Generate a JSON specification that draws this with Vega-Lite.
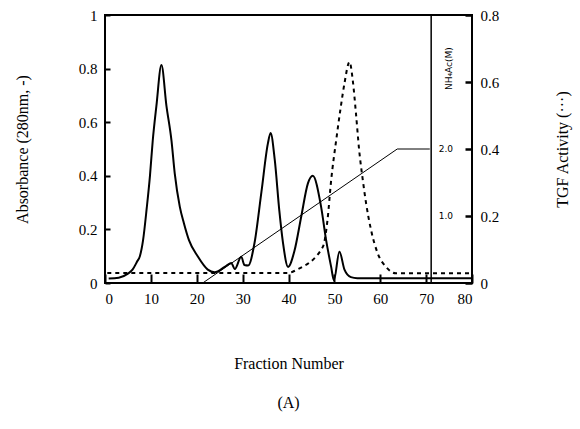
{
  "$schema": "https://vega.github.io/schema/vega-lite/v6.json",
  "width": 367,
  "height": 268,
  "autosize": "none",
  "padding": {"left": 105, "top": 15, "right": 108, "bottom": 146},
  "background": "white",
  "config": {
    "view": {"stroke": "black", "strokeWidth": 2},
    "font": "Liberation Serif",
    "axis": {
      "grid": false,
      "domain": false,
      "ticks": true,
      "zindex": 1,
      "tickColor": "black",
      "tickOpacity": 1,
      "labelColor": "black",
      "titleColor": "black",
      "labelFont": "Liberation Serif",
      "titleFont": "Liberation Serif",
      "labelFontSize": 15,
      "titleFontSize": 16,
      "titleFontWeight": "normal"
    }
  },
  "title": {"text": "(A)", "orient": "bottom", "font": "Liberation Serif", "fontSize": 16, "fontWeight": "normal", "color": "black", "offset": 24},
  "datasets": {
    "absorbance": [
      {"f": 0.8, "v": 0.017}, {"f": 3, "v": 0.02}, {"f": 5, "v": 0.035}, {"f": 6, "v": 0.05},
      {"f": 7, "v": 0.08}, {"f": 7.6, "v": 0.1}, {"f": 8.3, "v": 0.16}, {"f": 9.1, "v": 0.28},
      {"f": 9.8, "v": 0.4}, {"f": 10.4, "v": 0.53}, {"f": 11.2, "v": 0.66}, {"f": 12.3, "v": 0.813},
      {"f": 13.4, "v": 0.66}, {"f": 14.5, "v": 0.53}, {"f": 15.2, "v": 0.409}, {"f": 16.3, "v": 0.285},
      {"f": 17.2, "v": 0.223}, {"f": 18.3, "v": 0.16}, {"f": 20.2, "v": 0.1}, {"f": 22.4, "v": 0.05}, {"f": 23.9, "v": 0.04},
      {"f": 26.1, "v": 0.06}, {"f": 27.5, "v": 0.075}, {"f": 28.3, "v": 0.052}, {"f": 29.7, "v": 0.098},
      {"f": 30.4, "v": 0.067}, {"f": 31.2, "v": 0.065}, {"f": 32.6, "v": 0.15}, {"f": 34.1, "v": 0.34},
      {"f": 35.5, "v": 0.52}, {"f": 36.1, "v": 0.56}, {"f": 37, "v": 0.46}, {"f": 38, "v": 0.27},
      {"f": 38.8, "v": 0.15}, {"f": 39.9, "v": 0.06}, {"f": 41.3, "v": 0.12}, {"f": 42.8, "v": 0.25},
      {"f": 44.2, "v": 0.37}, {"f": 45.3, "v": 0.4}, {"f": 47.1, "v": 0.285}, {"f": 48.2, "v": 0.16},
      {"f": 49.3, "v": 0.06}, {"f": 49.9, "v": 0.01}, {"f": 51.1, "v": 0.117}, {"f": 52.2, "v": 0.05},
      {"f": 53.6, "v": 0.022}, {"f": 55, "v": 0.018}, {"f": 80, "v": 0.018}
    ],
    "tgf": [
      {"f": 0.5, "v": 0.03}, {"f": 40, "v": 0.03}, {"f": 41.7, "v": 0.039}, {"f": 47.5, "v": 0.108},
      {"f": 48.5, "v": 0.188}, {"f": 49.3, "v": 0.307}, {"f": 50.4, "v": 0.427}, {"f": 51.4, "v": 0.526},
      {"f": 52.2, "v": 0.596}, {"f": 53.3, "v": 0.66}, {"f": 54, "v": 0.606}, {"f": 54.7, "v": 0.507},
      {"f": 55.4, "v": 0.397}, {"f": 56.2, "v": 0.307}, {"f": 56.9, "v": 0.239}, {"f": 58, "v": 0.158},
      {"f": 59.4, "v": 0.09}, {"f": 61.2, "v": 0.049}, {"f": 63.4, "v": 0.029}, {"f": 80, "v": 0.029}
    ],
    "gradient": [
      {"f": 21.3, "m": 0}, {"f": 63.7, "m": 2.0}, {"f": 70.8, "m": 2.0}
    ],
    "nhticks": [
      {"f": 74.3, "m": 2.0, "label": "2.0"}, {"f": 74.3, "m": 1.0, "label": "1.0"}
    ],
    "nhtitle": [
      {"f": 75, "m": 3.2, "label": "NH₄Ac(M)"}
    ]
  },
  "layer": [
    {
      "data": {"name": "absorbance"},
      "mark": {"type": "line", "color": "black", "strokeWidth": 2, "interpolate": "monotone"},
      "encoding": {
        "x": {
          "field": "f", "type": "quantitative",
          "scale": {"domain": [0, 80], "nice": false},
          "axis": {"values": [0, 10, 20, 30, 40, 50, 60, 70, 80], "offset": -9, "tickSize": 9, "tickWidth": 2, "labelPadding": 8, "title": "Fraction Number", "titlePadding": 49}
        },
        "y": {
          "field": "v", "type": "quantitative",
          "scale": {"domain": [0, 1], "nice": false},
          "axis": {"orient": "left", "values": [0, 0.2, 0.4, 0.6, 0.8, 1], "labelExpr": "datum.value == 0 ? '0' : datum.value == 1 ? '1' : format(datum.value, '.1f')", "offset": -5, "tickSize": 5, "tickWidth": 2, "labelPadding": 8, "title": "Absorbance (280nm, -)", "titlePadding": 48}
        }
      }
    },
    {
      "data": {"name": "tgf"},
      "mark": {"type": "line", "color": "black", "strokeWidth": 2, "strokeDash": [4, 4], "interpolate": "monotone"},
      "encoding": {
        "x": {"field": "f", "type": "quantitative"},
        "y": {
          "field": "v", "type": "quantitative",
          "scale": {"domain": [0, 0.8], "nice": false},
          "axis": {"orient": "right", "values": [0, 0.2, 0.4, 0.6, 0.8], "labelExpr": "datum.value == 0 ? '0' : format(datum.value, '.1f')", "offset": -7, "tickSize": 7, "tickWidth": 2.5, "labelPadding": 8, "title": "TGF Activity (···)", "titleAngle": 270, "titlePadding": 72}
        }
      }
    },
    {
      "data": {"name": "gradient"},
      "mark": {"type": "line", "color": "black", "strokeWidth": 1},
      "encoding": {
        "x": {"field": "f", "type": "quantitative"},
        "y": {"field": "m", "type": "quantitative", "scale": {"domain": [0, 4], "nice": false}, "axis": null}
      }
    },
    {
      "data": {"values": [{"f": 71.1}]},
      "mark": {"type": "rule", "color": "black", "strokeWidth": 1.5},
      "encoding": {"x": {"field": "f", "type": "quantitative"}}
    },
    {
      "data": {"name": "nhticks"},
      "mark": {"type": "text", "font": "DejaVu Sans", "fontSize": 9, "color": "black"},
      "encoding": {
        "x": {"field": "f", "type": "quantitative"},
        "y": {"field": "m", "type": "quantitative", "scale": {"domain": [0, 4], "nice": false}, "axis": null},
        "text": {"field": "label"}
      }
    },
    {
      "data": {"name": "nhtitle"},
      "mark": {"type": "text", "font": "DejaVu Sans", "fontSize": 9, "color": "black", "angle": 270},
      "encoding": {
        "x": {"field": "f", "type": "quantitative"},
        "y": {"field": "m", "type": "quantitative", "scale": {"domain": [0, 4], "nice": false}, "axis": null},
        "text": {"field": "label"}
      }
    }
  ],
  "resolve": {"scale": {"y": "independent"}}
}
